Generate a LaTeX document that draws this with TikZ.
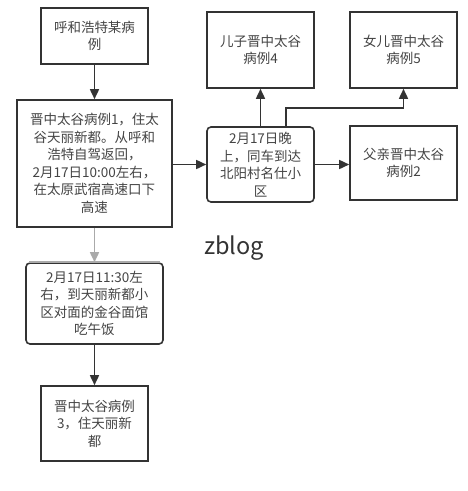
\documentclass[tikz,border=0pt]{standalone}
\usepackage{fontspec}
\setmainfont{Noto Sans CJK SC}
\usetikzlibrary{arrows.meta}
\definecolor{ink}{HTML}{333333}
\definecolor{txt}{HTML}{444444}
\definecolor{lgray}{HTML}{AAAAAA}
\tikzset{
  box/.style={draw=ink, line width=1.6pt, text=txt, align=center, inner sep=2pt,
    font=\fontsize{13.5}{17.5}\selectfont},
  rbox/.style={box, rounded corners=4pt},
  arr/.style={draw=ink, line width=1.6pt, -{Triangle[length=10pt,width=9pt]}},
  garr/.style={draw=lgray, line width=1.6pt, -{Triangle[length=10pt,width=9pt]}},
}
\begin{document}
\begin{tikzpicture}[x=1pt,y=-1pt]
\useasboundingbox[fill=white] (0,0) rectangle (468,491);
% boxes
\node[box, minimum width=107pt, minimum height=56pt] (a) at (94.5,36) {呼和浩特某病\\例};
\node[box, minimum width=155pt, minimum height=127pt] (b) at (94.5,163.5) {晋中太谷病例1，住太\\谷天丽新都。从呼和\\浩特自驾返回，\\2月17日10:00左右，\\在太原武宿高速口下\\高速};
\node[rbox, minimum width=107pt, minimum height=75pt] (c) at (260.5,164.5) {2月17日晚\\上，同车到达\\北阳村名仕小\\区};
\node[box, minimum width=107pt, minimum height=76pt] (d) at (260.5,50) {儿子晋中太谷\\病例4};
\node[box, minimum width=107pt, minimum height=76pt] (e) at (403.5,50) {女儿晋中太谷\\病例5};
\node[box, minimum width=107pt, minimum height=74pt] (f) at (403.5,163) {父亲晋中太谷\\病例2};
\node[rbox, minimum width=137pt, minimum height=81pt] (g) at (94.5,303.5) {2月17日11:30左\\右，到天丽新都小\\区对面的金谷面馆\\吃午饭};
\node[box, minimum width=107pt, minimum height=75pt] (h) at (94.5,423.5) {晋中太谷病例\\3，住天丽新\\都};
% gray top edge of g
\draw[lgray, line width=1.6pt] ([xshift=4pt]g.north west) -- ([xshift=-4pt]g.north east);
% label
\node[font=\fontsize{23.5}{28}\selectfont, text=ink] (zb) at (234,248) {zblog};
% connectors
\draw[arr] (a.south) -- (b.north);
\draw[arr] (b.east |- c.west) -- (c.west);
\draw[arr] (c.east) -- (f.west |- c.east);
\draw[arr] (c.north) -- (d.south);
\coordinate (ce) at (286,108);
\draw[arr] (c.north -| ce) -- (ce) -| (e.south);
\draw[garr] (b.south) -- (g.north);
\draw[arr] (g.south) -- (h.north);
\end{tikzpicture}
\end{document}
